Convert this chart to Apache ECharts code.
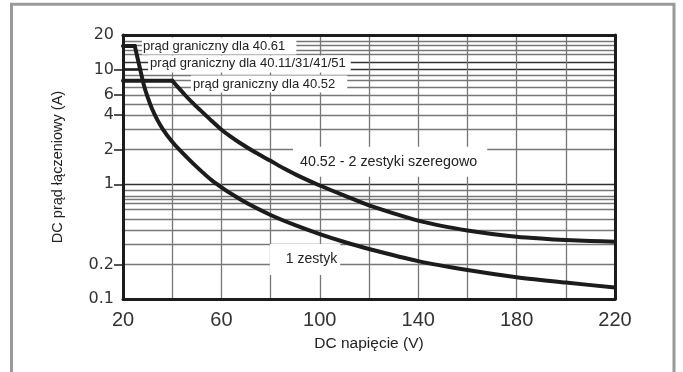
<!DOCTYPE html>
<html>
<head>
<meta charset="utf-8">
<script src="https://cdn.jsdelivr.net/npm/echarts@6/dist/echarts.min.js"></script>
<style>
  html, body { margin: 0; padding: 0; background: #fff; }
  #chart { width: 683px; height: 372px; }
</style>
</head>
<body>
<div id="chart"></div>
<script>
// 1 zestyk (with 40.61 limit at 16 A)
const voltLower = [20, 24.8, 26.9, 28.5, 30.2, 31.8, 33.8, 36.3, 39.5, 42.8, 49.3, 56.6, 67.6, 80, 90, 100, 110, 120, 140, 160, 180, 200, 220];
const currLower = [16, 16, 10.2, 7.3, 5.6, 4.55, 3.7, 3.0, 2.42, 2.01, 1.46, 1.06, 0.74, 0.54, 0.44, 0.368, 0.314, 0.273, 0.214, 0.179, 0.155, 0.139, 0.126];
// 40.52 - 2 zestyki szeregowo (limit 8 A)
const voltUpper = [20, 40, 42.4, 45.2, 48, 51.3, 55.4, 59.8, 63.5, 67.6, 73.7, 80, 85.5, 91.1, 100, 110, 120, 130, 140, 150, 160, 170, 180, 190, 200, 210, 220];
const currUpper = [8, 8, 7.0, 6.0, 5.2, 4.45, 3.68, 3.02, 2.63, 2.29, 1.9, 1.6, 1.37, 1.19, 0.975, 0.796, 0.654, 0.558, 0.482, 0.432, 0.396, 0.369, 0.349, 0.336, 0.326, 0.32, 0.316];
// prąd graniczny dla 40.11/31/41/51
const voltLimit10 = [20, 27];
const currLimit10 = [10, 10];

const gridCurrents = [0.2, 0.3, 0.4, 0.5, 0.6, 0.68, 0.74, 0.79, 0.88, 1, 2, 3, 4, 5, 6, 7, 8, 9, 10, 11.6, 13.6, 14.8, 16.4, 17.8];
const gridVoltages = [40, 60, 80, 100, 120, 140, 160, 180, 200];
const yLabelValues = [0.1, 0.2, 1, 2, 4, 6, 10, 20];
const yTickValues = [0.2, 1, 2, 4, 6, 10];
const notes = ['prąd graniczny dla 40.61', 'prąd graniczny dla 40.11/31/41/51', 'prąd graniczny dla 40.52', '40.52 - 2 zestyki szeregowo', '1 zestyk'];

const narrow = "'Liberation Sans Narrow', 'Arial Narrow', 'Liberation Sans', sans-serif";
const ink = '#1c1c1c';

const chart = echarts.init(document.getElementById('chart'));

function zip(xs, ys) { return xs.map((x, i) => [x, ys[i]]); }

function note(i, coord, padding, size) {
  return {
    name: notes[i], coord: coord, symbolSize: 0,
    label: {
      show: true, position: 'right', distance: 0, formatter: '{b}',
      fontFamily: narrow, fontSize: size, color: '#222',
      backgroundColor: '#fff', padding: padding
    }
  };
}

function curve(name, pts, smooth) {
  return {
    type: 'line', name: name, data: pts, z: 10, smooth: smooth,
    showSymbol: false, lineStyle: { color: ink, width: 4, cap: 'round', join: 'round' }
  };
}

const lower = zip(voltLower, currLower);
const upper = zip(voltUpper, currUpper);

const lineAxisX = { min: 20, max: 220, type: 'value', z: 20,
  axisLine: { show: true, lineStyle: { color: ink, width: 3 } },
  axisTick: { show: false }, axisLabel: { show: false }, splitLine: { show: false } };
const lineAxisY = { type: 'log', logBase: 10, min: 0.1, max: 20, z: 20,
  axisLine: { show: true, lineStyle: { color: ink, width: 3 } },
  axisTick: { show: false }, axisLabel: { show: false }, splitLine: { show: false } };

chart.setOption({
  backgroundColor: '#fff',
  animation: false,
  graphic: [{
    type: 'rect', shape: { x: 11.5, y: 4.2, width: 662.5, height: 420 },
    style: { fill: 'none', stroke: '#9a9a9a', lineWidth: 3 }, z: 0
  }],
  grid: { left: 123, right: 68, top: 35, bottom: 73 },
  xAxis: [Object.assign({}, lineAxisX, {
    position: 'bottom', interval: 40,
    axisLabel: { show: true, margin: 11, fontFamily: "'Liberation Sans', sans-serif", fontSize: 20, color: '#333' },
    name: 'DC napięcie (V)', nameLocation: 'middle', nameGap: 37,
    nameTextStyle: { fontFamily: narrow, fontSize: 15.5, color: '#222' }
  }), Object.assign({}, lineAxisX, { position: 'top' })],
  yAxis: [Object.assign({}, lineAxisY, {
    position: 'left',
    axisLabel: { show: true, customValues: yLabelValues, margin: 9, fontFamily: "'DejaVu Sans', sans-serif", fontSize: 16, color: '#333' },
    axisTick: { show: true, customValues: yTickValues, length: 9, lineStyle: { color: ink, width: 1.5 } },
    name: 'DC prąd łączeniowy (A)', nameLocation: 'middle', nameGap: 58,
    nameTextStyle: { fontFamily: narrow, fontSize: 14.5, color: '#222' }
  }), Object.assign({}, lineAxisY, { position: 'right' })],
  series: [
    {
      type: 'line', name: 'siatka', data: [], z: 1, silent: true,
      markLine: {
        silent: true, symbol: 'none', z: 1, label: { show: false },
        lineStyle: { color: '#777', width: 1.3, type: 'solid' },
        data: gridCurrents.map(v => ({ yAxis: v, lineStyle: { color: (v === 1 || v === 10 || v === 11.6) ? '#333' : '#777' } }))
          .concat(gridVoltages.map(v => ({ xAxis: v })))
      },
      markPoint: {
        silent: true, z: 3, symbol: 'circle',
        data: [
          note(0, [27.7, 16], [2, 11, 2, 1], 13),
          note(1, [30.2, 11.2], [2, 5, 2, 2], 13),
          note(2, [47.6, 7.48], [2, 12, 2, 2], 13),
          note(3, [89.1, 1.57], [8, 10, 8, 7], 14.3),
          note(4, [79.7, 0.221], [7, 3, 10, 16], 14)
        ]
      }
    },
    curve('40.61', lower.slice(0, 2), false),
    curve('1 zestyk', lower.slice(1), 0.25),
    curve('40.52', upper.slice(0, 2), false),
    curve('40.52 - 2 zestyki szeregowo', upper.slice(1), 0.25),
    {
      type: 'line', name: '40.11/31/41/51', data: zip(voltLimit10, currLimit10), z: 10,
      showSymbol: false, lineStyle: { color: ink, width: 2.5 }
    }
  ]
});
</script>
</body>
</html>
